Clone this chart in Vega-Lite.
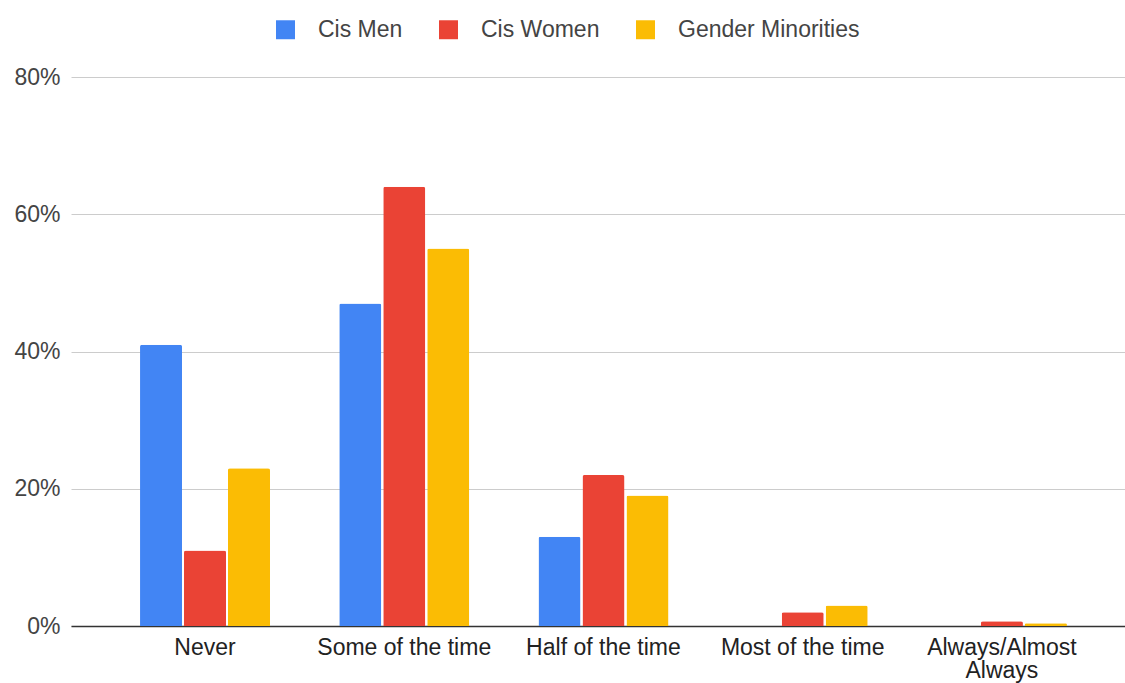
{
  "$schema": "https://vega.github.io/schema/vega-lite/v6.json",
  "autosize": {"type": "none"},
  "width": 1054,
  "height": 549,
  "padding": {"left": 71, "top": 77, "right": 0, "bottom": 57},
  "background": "white",
  "config": {
    "font": "Liberation Sans",
    "view": {"stroke": null}
  },
  "data": {
    "values": [
      {"frequency": "Never", "group": "Cis Men", "share": 0.41},
      {"frequency": "Never", "group": "Cis Women", "share": 0.11},
      {"frequency": "Never", "group": "Gender Minorities", "share": 0.23},
      {"frequency": "Some of the time", "group": "Cis Men", "share": 0.47},
      {"frequency": "Some of the time", "group": "Cis Women", "share": 0.64},
      {"frequency": "Some of the time", "group": "Gender Minorities", "share": 0.55},
      {"frequency": "Half of the time", "group": "Cis Men", "share": 0.13},
      {"frequency": "Half of the time", "group": "Cis Women", "share": 0.22},
      {"frequency": "Half of the time", "group": "Gender Minorities", "share": 0.19},
      {"frequency": "Most of the time", "group": "Cis Men", "share": 0},
      {"frequency": "Most of the time", "group": "Cis Women", "share": 0.02},
      {"frequency": "Most of the time", "group": "Gender Minorities", "share": 0.03},
      {"frequency": "Always/Almost Always", "group": "Cis Men", "share": 0},
      {"frequency": "Always/Almost Always", "group": "Cis Women", "share": 0.007},
      {"frequency": "Always/Almost Always", "group": "Gender Minorities", "share": 0.004}
    ]
  },
  "mark": {"type": "bar", "cornerRadiusTopLeft": 2, "cornerRadiusTopRight": 2},
  "encoding": {
    "x": {
      "field": "frequency",
      "type": "nominal",
      "sort": null,
      "scale": {"paddingInner": 0.3476, "paddingOuter": 0.319, "align": 0.543},
      "axis": {
        "title": null,
        "labelAngle": 0,
        "ticks": false,
        "domainColor": "#333333",
        "domainWidth": 1.5,
        "labelFontSize": 23,
        "labelColor": "#222222",
        "labelPadding": 10,
        "labelLineHeight": 23,
        "labelOverlap": false,
        "labelExpr": "datum.value == 'Always/Almost Always' ? ['Always/Almost', 'Always'] : datum.value"
      }
    },
    "xOffset": {
      "field": "group",
      "type": "nominal",
      "scale": {"paddingInner": 0.045, "paddingOuter": 0}
    },
    "y": {
      "field": "share",
      "type": "quantitative",
      "scale": {"domain": [0, 0.8], "nice": false},
      "axis": {
        "title": null,
        "values": [0, 0.2, 0.4, 0.6, 0.8],
        "format": ".0%",
        "domain": false,
        "ticks": false,
        "gridColor": "#cccccc",
        "gridWidth": 1,
        "labelFontSize": 23,
        "labelColor": "#444444",
        "labelPadding": 11
      }
    },
    "color": {
      "field": "group",
      "type": "nominal",
      "scale": {
        "domain": ["Cis Men", "Cis Women", "Gender Minorities"],
        "range": ["#4285F4", "#EA4335", "#FBBC04"]
      },
      "legend": {
        "title": null,
        "orient": "none",
        "direction": "horizontal",
        "legendX": 203,
        "legendY": -59,
        "symbolType": "square",
        "symbolSize": 360,
        "symbolStrokeWidth": 0,
        "labelFontSize": 23,
        "labelLimit": 0,
        "labelColor": "#444444",
        "labelOffset": 21,
        "columnPadding": 34
      }
    }
  }
}
